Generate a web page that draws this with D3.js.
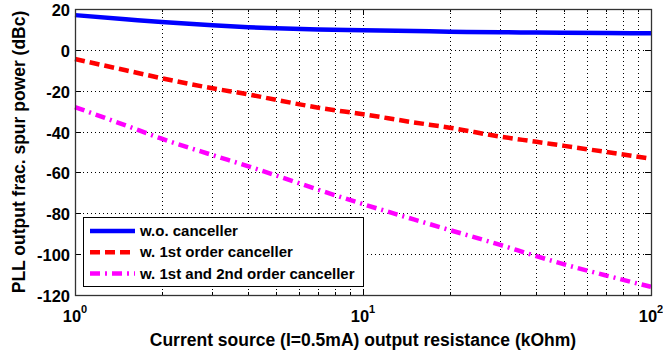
<!DOCTYPE html>
<html>
<head>
<meta charset="utf-8">
<script src="https://cdn.jsdelivr.net/npm/d3@7"></script>
<style>
  body { margin: 0; background: #fff; }
  svg text { font-family: Arial, "Liberation Sans", sans-serif; }
</style>
</head>
<body>
<svg id="chart" width="663" height="356"></svg>
<script>
"use strict";

// resistance values (kOhm) the curves are sampled at
var resistance = [1, 1.5, 2, 3, 4, 5, 7, 10, 15, 20, 30, 40, 50, 70, 100]

// spur power (dBc) for each canceller configuration
var noCanceller = [17, 15, 13.6, 12, 11.1, 10.6, 10, 9.6, 9.2, 8.9, 8.6, 8.5, 8.4, 8.2, 8.1]
var firstOrder = [-4.5, -10, -13.9, -18.8, -21.8, -24.5, -28.3, -31.5, -35.5, -38.1, -42.5, -45, -47, -50, -53.3]
var secondOrder = [-28, -37, -43.5, -51.5, -57, -61.5, -68.5, -75.5, -83, -88.2, -95.5, -101, -105, -110.5, -116]

var seriesNames = ["w.o. canceller", "w. 1st order canceller", "w. 1st and 2nd order canceller"]
var seriesColors = ["#0000ff", "#ff0000", "#ff00ff"]
var seriesDash = [null, "10,5", "10,5,2,5"]

var yTicks = [20, 0, -20, -40, -60, -80, -100, -120]
var xMajor = [1, 10, 100]
var xMinor = [2, 3, 4, 5, 6, 7, 8, 9, 20, 30, 40, 50, 60, 70, 80, 90]

var xLabel = "Current source (I=0.5mA) output resistance (kOhm)"
var yLabel = "PLL output frac. spur power (dBc)"

var svg = d3.select("#chart")
var plot = { left: 75, right: 651, top: 9, bottom: 295 }

var x = d3.scaleLog().domain([1, 100]).range([plot.left, plot.right])
var y = d3.scaleLinear().domain([-120, 20]).range([plot.bottom, plot.top])

// dotted grid
var grid = svg.append("g")
    .attr("stroke", "#000")
    .attr("stroke-width", 1)
    .attr("stroke-dasharray", "1,3")

grid.selectAll("line.gx")
    .data(xMinor.concat([10]))
    .enter().append("line")
    .attr("x1", d => Math.round(x(d)) + 0.5)
    .attr("x2", d => Math.round(x(d)) + 0.5)
    .attr("y1", plot.top)
    .attr("y2", plot.bottom)

grid.selectAll("line.gy")
    .data(yTicks.filter(d => d > -120 && d < 20))
    .enter().append("line")
    .attr("x1", plot.left)
    .attr("x2", plot.right)
    .attr("y1", d => Math.round(y(d)) + 0.5)
    .attr("y2", d => Math.round(y(d)) + 0.5)

// tick marks, inside on all four sides
var ticks = svg.append("g").attr("stroke", "#000").attr("stroke-width", 1)

yTicks.forEach(function (d) {
    var yy = Math.round(y(d)) + 0.5
    ticks.append("line").attr("x1", plot.left).attr("x2", plot.left + 6).attr("y1", yy).attr("y2", yy)
    ticks.append("line").attr("x1", plot.right - 6).attr("x2", plot.right).attr("y1", yy).attr("y2", yy)
})

xMajor.concat(xMinor).forEach(function (d) {
    var xx = Math.round(x(d)) + 0.5
    var len = xMajor.indexOf(d) >= 0 ? 6 : 3
    ticks.append("line").attr("x1", xx).attr("x2", xx).attr("y1", plot.bottom).attr("y2", plot.bottom - len)
    ticks.append("line").attr("x1", xx).attr("x2", xx).attr("y1", plot.top).attr("y2", plot.top + len)
})

// curves
var line = d3.line()
    .x(d => x(d[0]))
    .y(d => y(d[1]))
    .curve(d3.curveMonotoneX)

var allSeries = [noCanceller, firstOrder, secondOrder]

allSeries.forEach(function (values, i) {
    svg.append("path")
        .datum(resistance.map((r, k) => [r, values[k]]))
        .attr("d", line)
        .attr("fill", "none")
        .attr("stroke", seriesColors[i])
        .attr("stroke-width", 4.5)
        .attr("stroke-dasharray", seriesDash[i])
})

// axes box
svg.append("rect")
    .attr("x", plot.left + 0.5)
    .attr("y", plot.top + 0.5)
    .attr("width", plot.right - plot.left)
    .attr("height", plot.bottom - plot.top)
    .attr("fill", "none")
    .attr("stroke", "#333")
    .attr("stroke-width", 1.3)

// tick labels
svg.append("g").selectAll("text")
    .data(yTicks)
    .enter().append("text")
    .attr("x", plot.left - 5)
    .attr("y", d => y(d) + 7)
    .attr("text-anchor", "end")
    .attr("font-size", 16.5)
    .attr("font-weight", "bold")
    .text(d => d)

var xl = svg.append("g").selectAll("text")
    .data(xMajor)
    .enter().append("text")
    .attr("x", d => x(d))
    .attr("y", 322)
    .attr("text-anchor", "middle")
    .attr("font-size", 16.5)
    .attr("font-weight", "bold")
xl.append("tspan").text("10")
xl.append("tspan")
    .attr("dy", -9)
    .attr("font-size", 11)
    .text(d => Math.round(Math.log10(d)))

// axis titles
svg.append("text")
    .attr("x", (plot.left + plot.right) / 2)
    .attr("y", 346)
    .attr("text-anchor", "middle")
    .attr("font-size", 17.5)
    .attr("font-weight", "bold")
    .text(xLabel)

svg.append("text")
    .attr("transform", "translate(25," + ((plot.top + plot.bottom) / 2) + ") rotate(-90)")
    .attr("text-anchor", "middle")
    .attr("font-size", 17.5)
    .attr("font-weight", "bold")
    .text(yLabel)

// legend
var legend = svg.append("g").attr("transform", "translate(83,217)")

legend.append("rect")
    .attr("x", 0.5)
    .attr("y", 0.5)
    .attr("width", 280)
    .attr("height", 69)
    .attr("fill", "#fff")
    .attr("stroke", "#000")
    .attr("stroke-width", 1)

seriesNames.forEach(function (name, i) {
    var cy = 14 + i * 21.3
    legend.append("line")
        .attr("x1", 7)
        .attr("x2", 52)
        .attr("y1", cy)
        .attr("y2", cy)
        .attr("stroke", seriesColors[i])
        .attr("stroke-width", 4.5)
        .attr("stroke-dasharray", seriesDash[i])
    legend.append("text")
        .attr("x", 57)
        .attr("y", cy + 5)
        .attr("font-size", 15)
        .attr("font-weight", "bold")
        .text(name)
})
</script>
</body>
</html>
